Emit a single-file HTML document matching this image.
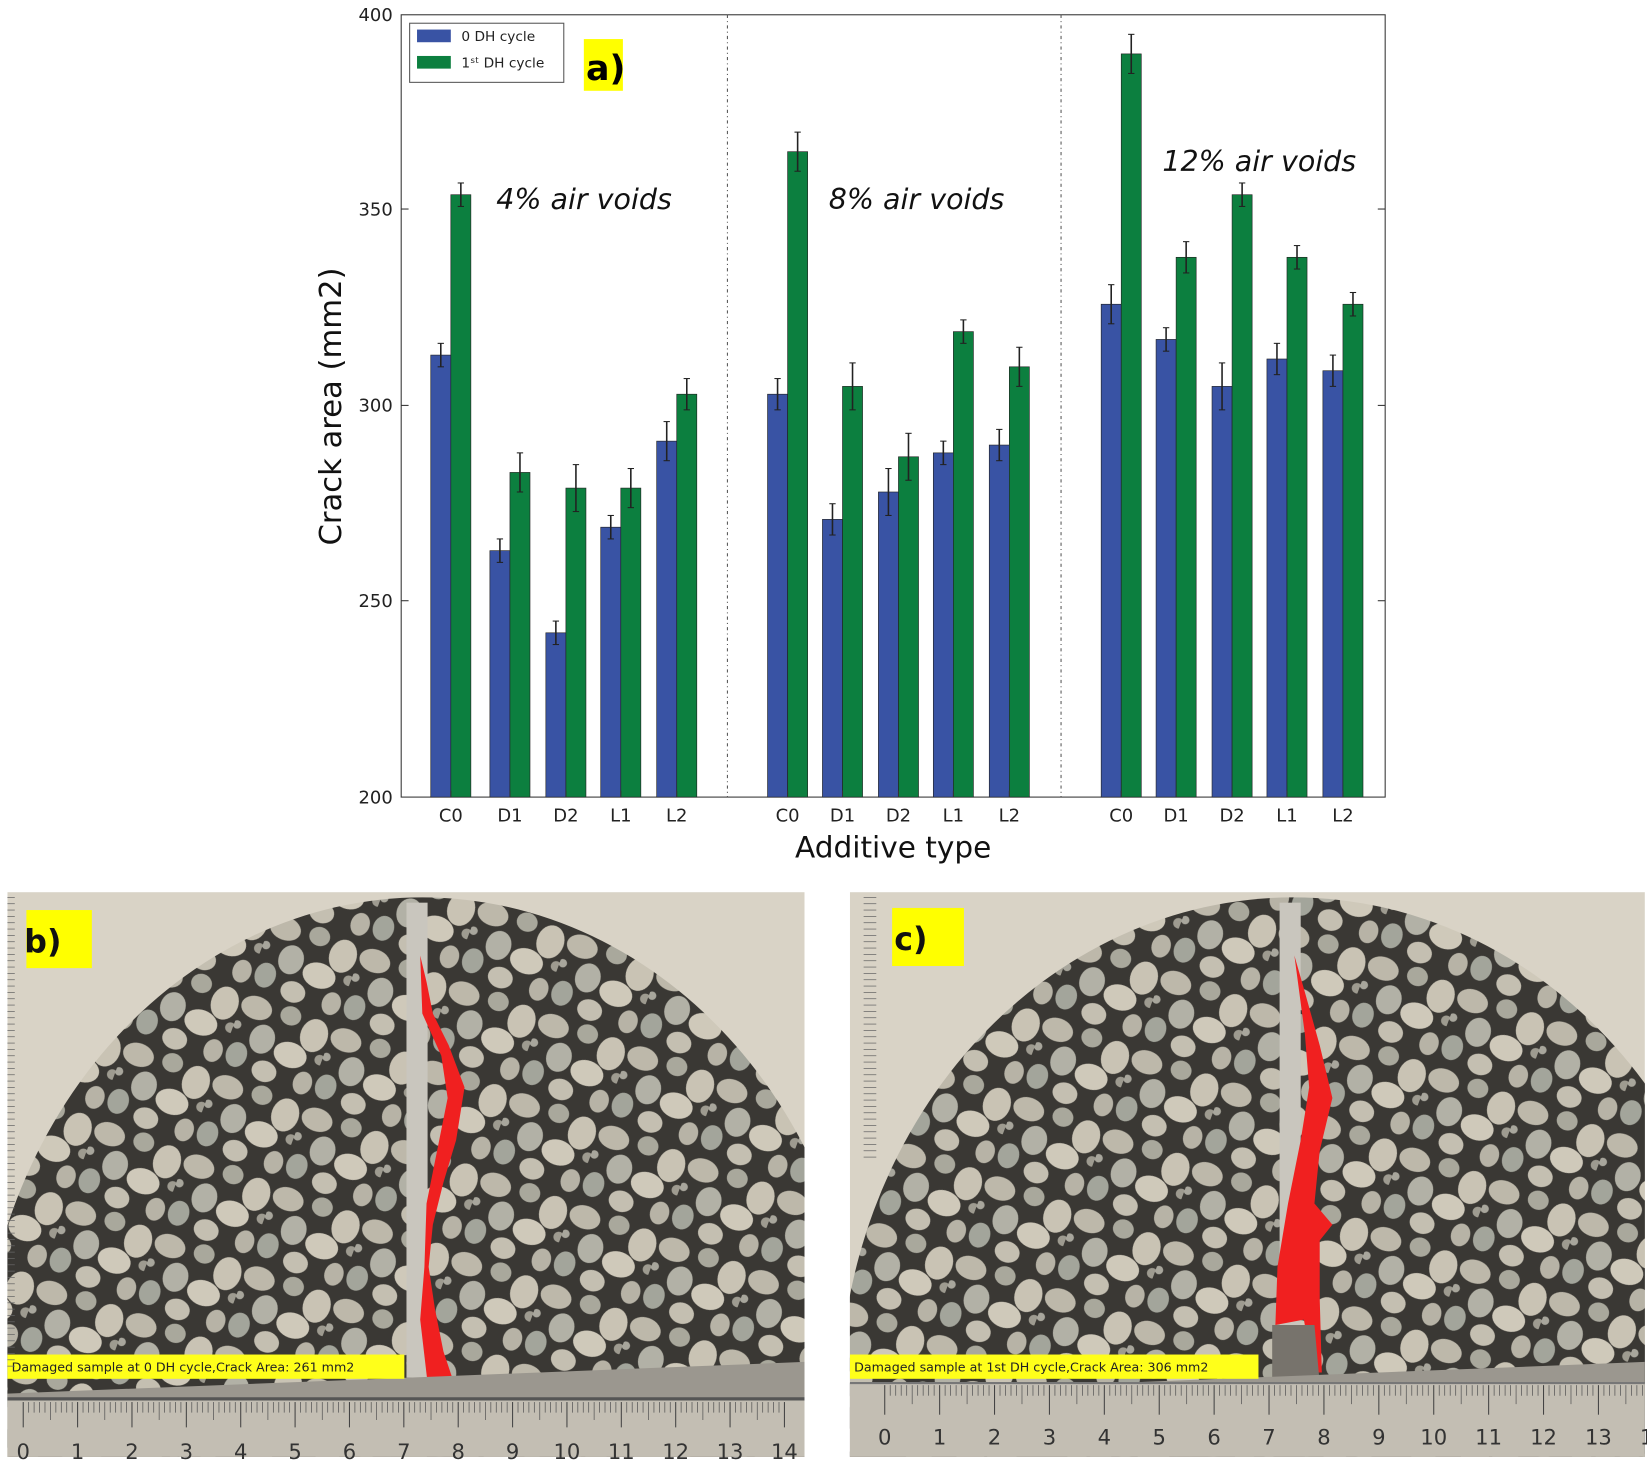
<!DOCTYPE html>
<html><head><meta charset="utf-8"><style>
html,body{margin:0;padding:0;background:#fff;width:1647px;height:1462px;overflow:hidden;}
svg{display:block;}
text{font-family:"DejaVu Sans","Liberation Sans",sans-serif;}
</style></head><body>
<svg width="1647" height="1462" viewBox="0 0 1560 1384.8" preserveAspectRatio="none" xmlns="http://www.w3.org/2000/svg">
<defs>
<pattern id="agg" width="90" height="80" patternUnits="userSpaceOnUse" patternTransform="rotate(20)">
<rect width="90" height="80" fill="#3a3834"/>
<ellipse cx="15" cy="14" rx="15" ry="11" fill="#bdb8aa"/>
<ellipse cx="48" cy="10" rx="10" ry="9" fill="#a9a89c"/>
<ellipse cx="75" cy="20" rx="13" ry="16" fill="#c9c3b4"/>
<ellipse cx="30" cy="40" rx="12" ry="14" fill="#b2b1a6"/>
<ellipse cx="60" cy="45" rx="16" ry="12" fill="#cfc9ba"/>
<ellipse cx="12" cy="62" rx="10" ry="12" fill="#a3a59b"/>
<ellipse cx="42" cy="68" rx="12" ry="10" fill="#c4bfb1"/>
<ellipse cx="80" cy="66" rx="9" ry="11" fill="#b7b3a6"/>
<circle cx="88" cy="40" r="5" fill="#9e9b90"/>
<circle cx="3" cy="35" r="4" fill="#a8a69c"/>
</pattern>
<clipPath id="cb"><rect x="7" y="845" width="755" height="535"/></clipPath>
<clipPath id="cc"><rect x="805" y="845" width="753" height="535"/></clipPath>
</defs>

<rect x="380" y="14" width="932" height="741" fill="#fff" stroke="#333" stroke-width="1"/>
<line x1="689" y1="14" x2="689" y2="755" stroke="#555" stroke-dasharray="3,3,1,3"/>
<line x1="1005" y1="14" x2="1005" y2="755" stroke="#555" stroke-dasharray="3,3,1,3"/>
<g font-size="17" fill="#222" text-anchor="end">
<text x="372" y="761">200</text><text x="372" y="575">250</text><text x="372" y="390">300</text><text x="372" y="204">350</text><text x="372" y="20">400</text>
</g>
<g stroke="#333"><line x1="380" y1="569" x2="387" y2="569"/><line x1="380" y1="384" x2="387" y2="384"/><line x1="380" y1="198" x2="387" y2="198"/>
<line x1="1305" y1="569" x2="1312" y2="569"/><line x1="1305" y1="384" x2="1312" y2="384"/><line x1="1305" y1="198" x2="1312" y2="198"/></g>
<text transform="translate(323,385) rotate(-90)" font-size="29" text-anchor="middle" fill="#111">Crack area (mm2)</text>
<text x="846" y="812" font-size="28" text-anchor="middle" fill="#111">Additive type</text>
<g id="bars"></g>
<g font-size="27" font-style="italic" fill="#111">
<text x="470" y="198">4% air voids</text><text x="785" y="198">8% air voids</text><text x="1101" y="162">12% air voids</text></g>
<rect x="388" y="22" width="146" height="56" fill="#fff" stroke="#555"/>
<rect x="395" y="28" width="32" height="12" fill="#3953a4"/><text x="437" y="39" font-size="13" fill="#222">0 DH cycle</text>
<rect x="395" y="53" width="32" height="12" fill="#0c7f3f"/><text x="437" y="64" font-size="13" fill="#222">1ˢᵗ DH cycle</text>
<rect x="553" y="37" width="37" height="49" fill="#ffff00"/>
<text x="555" y="76" font-size="33" font-weight="bold" font-family="Liberation Serif,serif" fill="#000">a)</text>

<g clip-path="url(#cb)">
<rect x="7" y="845" width="755" height="535" fill="#d9d3c6"/>
<ellipse cx="400" cy="1330" rx="420" ry="480" fill="url(#agg)"/>
<rect x="385" y="855" width="20" height="450" fill="#c9c6be"/>
<path d="M398 905 L404 930 L410 960 L425 990 L440 1030 L432 1080 L420 1120 L410 1160 L406 1200 L412 1240 L420 1280 L430 1310 L405 1310 L398 1250 L402 1200 L404 1140 L414 1090 L424 1040 L418 1000 L400 960 Z" fill="#f02020"/>
<polygon points="7,1320 762,1290 762,1380 7,1380" fill="#9b978f"/>
<rect x="7" y="1325" width="755" height="55" fill="#c3beb3"/>
<line x1="7" y1="1325" x2="762" y2="1325" stroke="#555" stroke-width="3"/>
<rect x="7" y="1283" width="376" height="23" fill="#ffff1a"/>
<text x="11" y="1299" font-size="12" fill="#222">Damaged sample at 0 DH cycle,Crack Area: 261 mm2</text>
<rect x="25" y="862" width="62" height="55" fill="#ffff00"/>
<text x="23" y="902" font-size="30" font-weight="bold" font-family="Liberation Sans,sans-serif" fill="#111">b)</text>
</g>

<g clip-path="url(#cc)">
<rect x="805" y="845" width="753" height="535" fill="#d9d3c6"/>
<ellipse cx="1225" cy="1330" rx="430" ry="480" fill="url(#agg)"/>
<rect x="1212" y="855" width="20" height="440" fill="#c9c6be"/>
<path d="M1226 905 L1236 940 L1250 990 L1262 1040 L1250 1090 L1245 1140 L1262 1160 L1250 1175 L1250 1230 L1252 1300 L1244 1300 L1235 1250 L1208 1255 L1210 1200 L1220 1140 L1232 1080 L1240 1030 L1236 980 Z" fill="#f02020"/>
<polygon points="1205,1255 1245,1255 1250,1310 1205,1310" fill="#77736c"/>
<polygon points="805,1320 1558,1290 1558,1380 805,1380" fill="#9b978f"/>
<rect x="805" y="1310" width="753" height="70" fill="#c3beb3"/>
<line x1="805" y1="1310" x2="1558" y2="1310" stroke="#777" stroke-width="2"/>
<rect x="805" y="1283" width="387" height="23" fill="#ffff1a"/>
<text x="809" y="1299" font-size="12" fill="#222">Damaged sample at 1st DH cycle,Crack Area: 306 mm2</text>
<rect x="845" y="860" width="68" height="55" fill="#ffff00"/>
<text x="847" y="900" font-size="30" font-weight="bold" font-family="Liberation Sans,sans-serif" fill="#111">c)</text>
</g>
<g id="rulers" font-size="20" fill="#333" font-family="Liberation Sans,sans-serif"></g>
</svg>
<script>
var ns="http://www.w3.org/2000/svg";
function el(t,a,p,txt){var e=document.createElementNS(ns,t);for(var k in a)e.setAttribute(k,a[k]);if(txt!=null)e.textContent=txt;(p||document.getElementById('bars')).appendChild(e);return e;}
function Y(v){return 755-(v-200)*3.705;}
var xs=[[422,478,531,583,636],[741,793,846,898,951],[1057,1109,1162,1214,1267]];
var B=[[313,263,242,269,291],[303,271,278,288,290],[326,317,305,312,309]];
var G=[[354,283,279,279,303],[365,305,287,319,310],[390,338,354,338,326]];
var EB=[[3,3,3,3,5],[4,4,6,3,4],[5,3,6,4,4]],EG=[[3,5,6,5,4],[5,6,6,3,5],[5,4,3,3,3]];
var L=["C0","D1","D2","L1","L2"];
for(var g=0;g<3;g++)for(var i=0;i<5;i++){var c=xs[g][i];
el('rect',{x:c-14,y:Y(B[g][i]),width:19,height:755-Y(B[g][i]),fill:'#3953a4',stroke:'#222','stroke-width':0.6});
el('rect',{x:c+5,y:Y(G[g][i]),width:19,height:755-Y(G[g][i]),fill:'#0c7f3f',stroke:'#222','stroke-width':0.6});
[[c-4.5,B[g][i],EB[g][i]],[c+14.5,G[g][i],EG[g][i]]].forEach(function(q){
el('line',{x1:q[0],x2:q[0],y1:Y(q[1]+q[2]),y2:Y(q[1]-q[2]),stroke:'#222','stroke-width':1.5});
el('line',{x1:q[0]-3,x2:q[0]+3,y1:Y(q[1]+q[2]),y2:Y(q[1]+q[2]),stroke:'#222'});
el('line',{x1:q[0]-3,x2:q[0]+3,y1:Y(q[1]-q[2]),y2:Y(q[1]-q[2]),stroke:'#222'});});
el('text',{x:c+5,y:778,'font-size':17,'text-anchor':'middle',fill:'#222'},null,L[i]);
el('line',{x1:c+5,x2:c+5,y1:755,y2:749,stroke:'#333'});
}
var R=document.getElementById('rulers');
for(var k=0;k<=14;k++){
 var x1=22+k*51.5; el('text',{x:x1,y:1382,'text-anchor':'middle'},R,k);
 el('line',{x1:x1,x2:x1,y1:1328,y2:1352,stroke:'#444'},R);
 var x2=838+k*52; el('text',{x:x2,y:1368,'text-anchor':'middle'},R,k);
 el('line',{x1:x2,x2:x2,y1:1312,y2:1340,stroke:'#444'},R);
 for(var m=1;m<10&&k<14;m++){el('line',{x1:x1+m*5.15,x2:x1+m*5.15,y1:1328,y2:m==5?1345:1338,stroke:'#555','stroke-width':0.7},R);
 el('line',{x1:x2+m*5.2,x2:x2+m*5.2,y1:1312,y2:m==5?1330:1322,stroke:'#555','stroke-width':0.7},R);}
}
for(var t=850;t<1300;t+=6){el('line',{x1:7,x2:t%30==0?20:14,y1:t,y2:t,stroke:'#666','stroke-width':0.7},R);
 if(t<1100)el('line',{x1:818,x2:t%30==0?840:830,y1:t,y2:t,stroke:'#666','stroke-width':0.7},R);}
</script>
</body></html>
